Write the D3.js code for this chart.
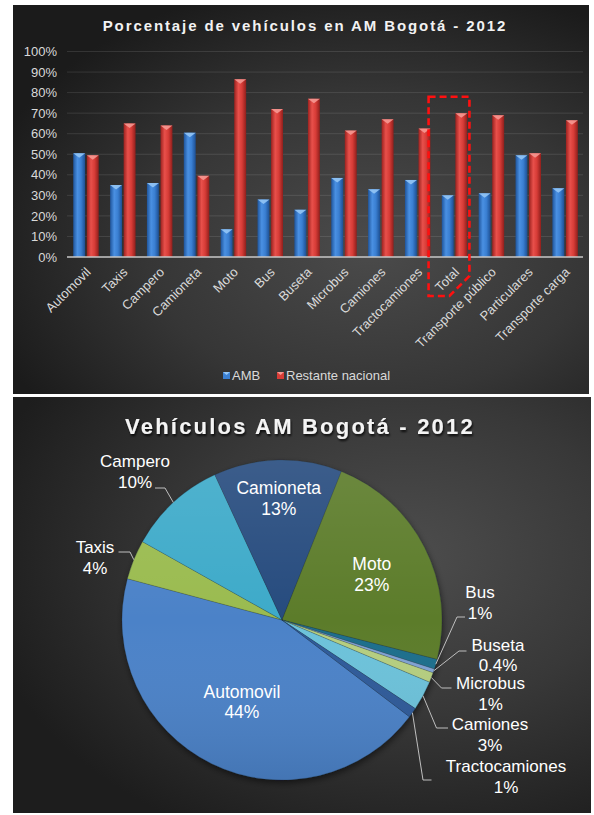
<!DOCTYPE html>
<html>
<head>
<meta charset="utf-8">
<script src="https://cdn.jsdelivr.net/npm/d3@7"></script>
<style>
  html, body { margin: 0; padding: 0; background: #ffffff; }
  svg { display: block; font-family: "Liberation Sans", Arial, sans-serif; }
</style>
</head>
<body>
<svg id="chart" width="594" height="815"></svg>
<script>
// ---- Data: share of vehicles in the Bogotá metro area (AMB) vs rest of country, 2012 ----
const categories = ["Automovil", "Taxis", "Campero", "Camioneta", "Moto", "Bus", "Buseta",
  "Microbus", "Camiones", "Tractocamiones", "Total", "Transporte público", "Particulares", "Transporte carga"];
const ambShare = [0.505, 0.35, 0.36, 0.605, 0.135, 0.28, 0.23, 0.385, 0.33, 0.375, 0.30, 0.31, 0.495, 0.335];
const restShare = [0.495, 0.65, 0.64, 0.395, 0.865, 0.72, 0.77, 0.615, 0.67, 0.625, 0.70, 0.69, 0.505, 0.665];
const seriesNames = ["AMB", "Restante nacional"];
const yTickValues = [0, 0.1, 0.2, 0.3, 0.4, 0.5, 0.6, 0.7, 0.8, 0.9, 1.0];
const highlighted = "Total";

// ---- Data: vehicle mix in AM Bogotá, 2012 (percent) ----
const pieCategories = ["Automovil", "Taxis", "Campero", "Camioneta", "Moto", "Bus", "Buseta",
  "Microbus", "Camiones", "Tractocamiones"];
const pieValues = [44, 4, 10, 13, 23, 1, 0.4, 1, 3, 1];
const pieLabels = ["44%", "4%", "10%", "13%", "23%", "1%", "0.4%", "1%", "3%", "1%"];

const svg = d3.select("#chart");
const defs = svg.append("defs");

// ---------- shared defs ----------
function radialBg(id, cx, cy, r, stops) {
  const g = defs.append("radialGradient").attr("id", id)
    .attr("cx", cx).attr("cy", cy).attr("r", r);
  stops.forEach(([o, c]) => g.append("stop").attr("offset", o).attr("stop-color", c));
}
radialBg("bgTop", "62%", "62%", "70%", [[0, "#4b4b4b"], [0.55, "#363636"], [1, "#1b1b1b"]]);
radialBg("bgBottom", "68%", "38%", "75%", [[0, "#4d4d4d"], [0.5, "#383838"], [1, "#1d1d1d"]]);

function barGrad(id, stops) {
  const g = defs.append("linearGradient").attr("id", id)
    .attr("x1", 0).attr("x2", 1).attr("y1", 0).attr("y2", 0);
  stops.forEach(([o, c]) => g.append("stop").attr("offset", o).attr("stop-color", c));
}
barGrad("gradAMB", [[0, "#1f559c"], [0.35, "#4a90e2"], [0.65, "#3a7fd2"], [1, "#1d4f92"]]);
barGrad("gradRest", [[0, "#9c221f"], [0.35, "#e8504b"], [0.65, "#d73c37"], [1, "#8f1f1c"]]);

const pieShade = defs.append("linearGradient").attr("id", "pieShade")
  .attr("x1", 0).attr("x2", 0).attr("y1", 0).attr("y2", 1);
pieShade.append("stop").attr("offset", 0).attr("stop-color", "#ffffff").attr("stop-opacity", 0.10);
pieShade.append("stop").attr("offset", 0.5).attr("stop-color", "#ffffff").attr("stop-opacity", 0.0);
pieShade.append("stop").attr("offset", 1).attr("stop-color", "#000000").attr("stop-opacity", 0.10);

const shadow = defs.append("filter").attr("id", "shadow")
  .attr("x", "-20%").attr("y", "-20%").attr("width", "140%").attr("height", "140%");
shadow.append("feDropShadow").attr("dx", 1).attr("dy", 3).attr("stdDeviation", 3)
  .attr("flood-color", "#000").attr("flood-opacity", 0.5);

const textShadow = defs.append("filter").attr("id", "textShadow")
  .attr("x", "-10%").attr("y", "-30%").attr("width", "120%").attr("height", "160%");
textShadow.append("feDropShadow").attr("dx", 1).attr("dy", 2).attr("stdDeviation", 1.2)
  .attr("flood-color", "#000").attr("flood-opacity", 0.8);

// ================= TOP PANEL: grouped bar chart =================
svg.append("rect").attr("x", 13).attr("y", 5).attr("width", 576).attr("height", 389)
  .attr("fill", "url(#bgTop)");

svg.append("text").attr("x", 305).attr("y", 30.5).attr("text-anchor", "middle")
  .attr("font-size", 15).attr("font-weight", "bold").attr("letter-spacing", 1.9)
  .attr("fill", "#f2f2f2")
  .text("Porcentaje de vehículos en AM Bogotá - 2012");

const plot = { left: 67, right: 583, top: 51.5, bottom: 257 };
const x = d3.scaleBand().domain(categories).range([plot.left, plot.right]);
const y = d3.scaleLinear().domain([0, 1]).range([plot.bottom, plot.top]);
const xs = d3.scaleBand().domain(seriesNames).range([0, 25.5]).paddingInner(0.12);

// gridlines
svg.append("g").selectAll("line").data(yTickValues.filter(v => v > 0)).join("line")
  .attr("x1", plot.left).attr("x2", plot.right)
  .attr("y1", d => y(d)).attr("y2", d => y(d))
  .attr("stroke", "#ffffff").attr("stroke-opacity", 0.11).attr("stroke-width", 1);

// y axis labels
const yAxis = d3.axisLeft(y).tickValues(yTickValues).tickFormat(d3.format(".0%")).tickSize(0).tickPadding(10);
const yg = svg.append("g").attr("transform", `translate(${plot.left},0)`).call(yAxis);
yg.select(".domain").remove();
yg.selectAll("text").attr("fill", "#d9d9d9").attr("font-size", 13)
  .attr("font-family", "Liberation Sans, Arial, sans-serif");

// bars
const rows = categories.map((c, i) => ({ c, vals: [ambShare[i], restShare[i]] }));
const grads = ["url(#gradAMB)", "url(#gradRest)"];
const caps = ["#93c5f5", "#f59892"];
const groups = svg.append("g").selectAll("g").data(rows).join("g")
  .attr("transform", d => `translate(${x(d.c) + x.bandwidth() / 2 - 12.2},0)`);
groups.each(function (d) {
  const g = d3.select(this);
  seriesNames.forEach((s, k) => {
    const v = d.vals[k];
    const x0 = xs(s), w = xs.bandwidth();
    g.append("rect").attr("x", x0).attr("y", y(v)).attr("width", w)
      .attr("height", y(0) - y(v)).attr("fill", grads[k]);
    g.append("path")
      .attr("d", `M${x0},${y(v)}H${x0 + w}L${x0 + w / 2},${y(v) + 4.5}Z`)
      .attr("fill", caps[k]).attr("opacity", 0.9);
  });
});

// baseline
svg.append("line").attr("x1", plot.left).attr("x2", plot.right)
  .attr("y1", y(0)).attr("y2", y(0)).attr("stroke", "#c9c9c9").attr("stroke-width", 1.5);

// x labels, rotated
svg.append("g").selectAll("text").data(categories).join("text")
  .attr("transform", d => `translate(${x(d) + x.bandwidth() / 2 + 6},${y(0) + 16}) rotate(-45)`)
  .attr("text-anchor", "end").attr("font-size", 13).attr("fill", "#d9d9d9")
  .text(d => d);

// highlight box around the "Total" group
{
  const left = x(highlighted) - 7, right = x(highlighted) + x.bandwidth() - 3;
  const top = y(0.78), bottom = y(0) + 39, ch = 20;
  svg.append("path")
    .attr("d", `M${left},${top}H${right}V${bottom - ch}L${right - ch},${bottom}H${left}Z`)
    .attr("fill", "none").attr("stroke", "#ff1010").attr("stroke-width", 2.6)
    .attr("stroke-dasharray", "7,4");
}

// legend
{
  const legend = svg.append("g");
  const items = [{ s: seriesNames[0], x: 223, c: "#3a7fd2", cap: caps[0] },
                 { s: seriesNames[1], x: 277, c: "#d73c37", cap: caps[1] }];
  items.forEach(it => {
    legend.append("rect").attr("x", it.x).attr("y", 372).attr("width", 7).attr("height", 7).attr("fill", it.c);
    legend.append("path").attr("d", `M${it.x},372H${it.x + 7}L${it.x + 3.5},375Z`).attr("fill", it.cap);
    legend.append("text").attr("x", it.x + 9).attr("y", 380).attr("font-size", 13)
      .attr("fill", "#d9d9d9").text(it.s);
  });
}

// ================= BOTTOM PANEL: pie chart =================
svg.append("rect").attr("x", 13).attr("y", 397).attr("width", 578).attr("height", 416)
  .attr("fill", "url(#bgBottom)");

svg.append("text").attr("x", 300).attr("y", 434).attr("text-anchor", "middle")
  .attr("font-size", 22).attr("font-weight", "bold").attr("letter-spacing", 2.2)
  .attr("fill", "#f4f4f4").attr("filter", "url(#textShadow)")
  .text("Vehículos AM Bogotá - 2012");

const pieColors = ["#4b82c8", "#9abb50", "#3eaac9", "#264c7e", "#5c7b29",
  "#1f6e8c", "#7fa2d3", "#b5ce7f", "#6cc2da", "#2d5a99"];
const color = d3.scaleOrdinal().domain(pieCategories).range(pieColors);

const cx = 282, cy = 620, R = 160;
const start = 127.2 * Math.PI / 180;
const pie = d3.pie().sort(null).startAngle(start).endAngle(start + 2 * Math.PI);
const arcs = pie(pieValues).map((a, i) => ({ ...a, name: pieCategories[i], label: pieLabels[i] }));
const arc = d3.arc().innerRadius(0).outerRadius(R);

const pg = svg.append("g").attr("transform", `translate(${cx},${cy})`);
const sliceG = pg.append("g").attr("filter", "url(#shadow)");
sliceG.selectAll("path").data(arcs).join("path")
  .attr("d", arc).attr("fill", d => color(d.name))
  .attr("stroke", "#1a2a3a").attr("stroke-opacity", 0.35).attr("stroke-width", 0.6);
pg.append("circle").attr("r", R).attr("fill", "url(#pieShade)");

// labels inside the large slices
const insideRadius = { Automovil: 0.57, Camioneta: 0.76, Moto: 0.63 };
const inside = arcs.filter(d => insideRadius[d.name] !== undefined);
inside.forEach(d => {
  const r = R * insideRadius[d.name];
  const [lx, ly] = d3.arc().innerRadius(r).outerRadius(r).centroid(d);
  const t = pg.append("text").attr("text-anchor", "middle").attr("font-size", 17.5).attr("fill", "#ffffff");
  t.append("tspan").attr("x", lx).attr("y", ly - 4).text(d.name);
  t.append("tspan").attr("x", lx).attr("y", ly + 16.5).text(d.label);
});

// labels outside with leader lines (offsets from the pie centre)
const outsideLayout = {
  Campero:        { tx: -147, ty: -153, lx: -127,  ly: -132, ex: -117, gap: 21 },
  Taxis:          { tx: -187, ty: -67,  lx: -163.5, ly: -68, ex: -152, gap: 21 },
  Bus:            { tx: 198,  ty: -22,  lx: 183,   ly: -3,   ex: 175, gap: 21 },
  Buseta:         { tx: 216,  ty: 31,   lx: 184.5, ly: 31,   ex: 177, gap: 19.5 },
  Microbus:       { tx: 208.5, ty: 69,  lx: 169.5, ly: 68,   ex: 159.5, gap: 21 },
  Camiones:       { tx: 208,  ty: 110,  lx: 166,   ly: 108,  ex: 154.5, gap: 21 },
  Tractocamiones: { tx: 224,  ty: 152,  lx: 149.5, ly: 160,  ex: 141, gap: 21 }
};
arcs.filter(d => outsideLayout[d.name]).forEach(d => {
  const L = outsideLayout[d.name];
  const mid = (d.startAngle + d.endAngle) / 2;
  const ex = R * Math.sin(mid), ey = -R * Math.cos(mid);
  pg.append("path").attr("d", `M${L.lx},${L.ly}H${L.ex}L${ex},${ey}`)
    .attr("fill", "none").attr("stroke", "#bfbfbf").attr("stroke-width", 1);
  const t = pg.append("text").attr("text-anchor", "middle").attr("font-size", 17).attr("fill", "#ffffff");
  t.append("tspan").attr("x", L.tx).attr("y", L.ty).text(d.name);
  t.append("tspan").attr("x", L.tx).attr("y", L.ty + L.gap).text(d.label);
});
</script>
</body>
</html>
